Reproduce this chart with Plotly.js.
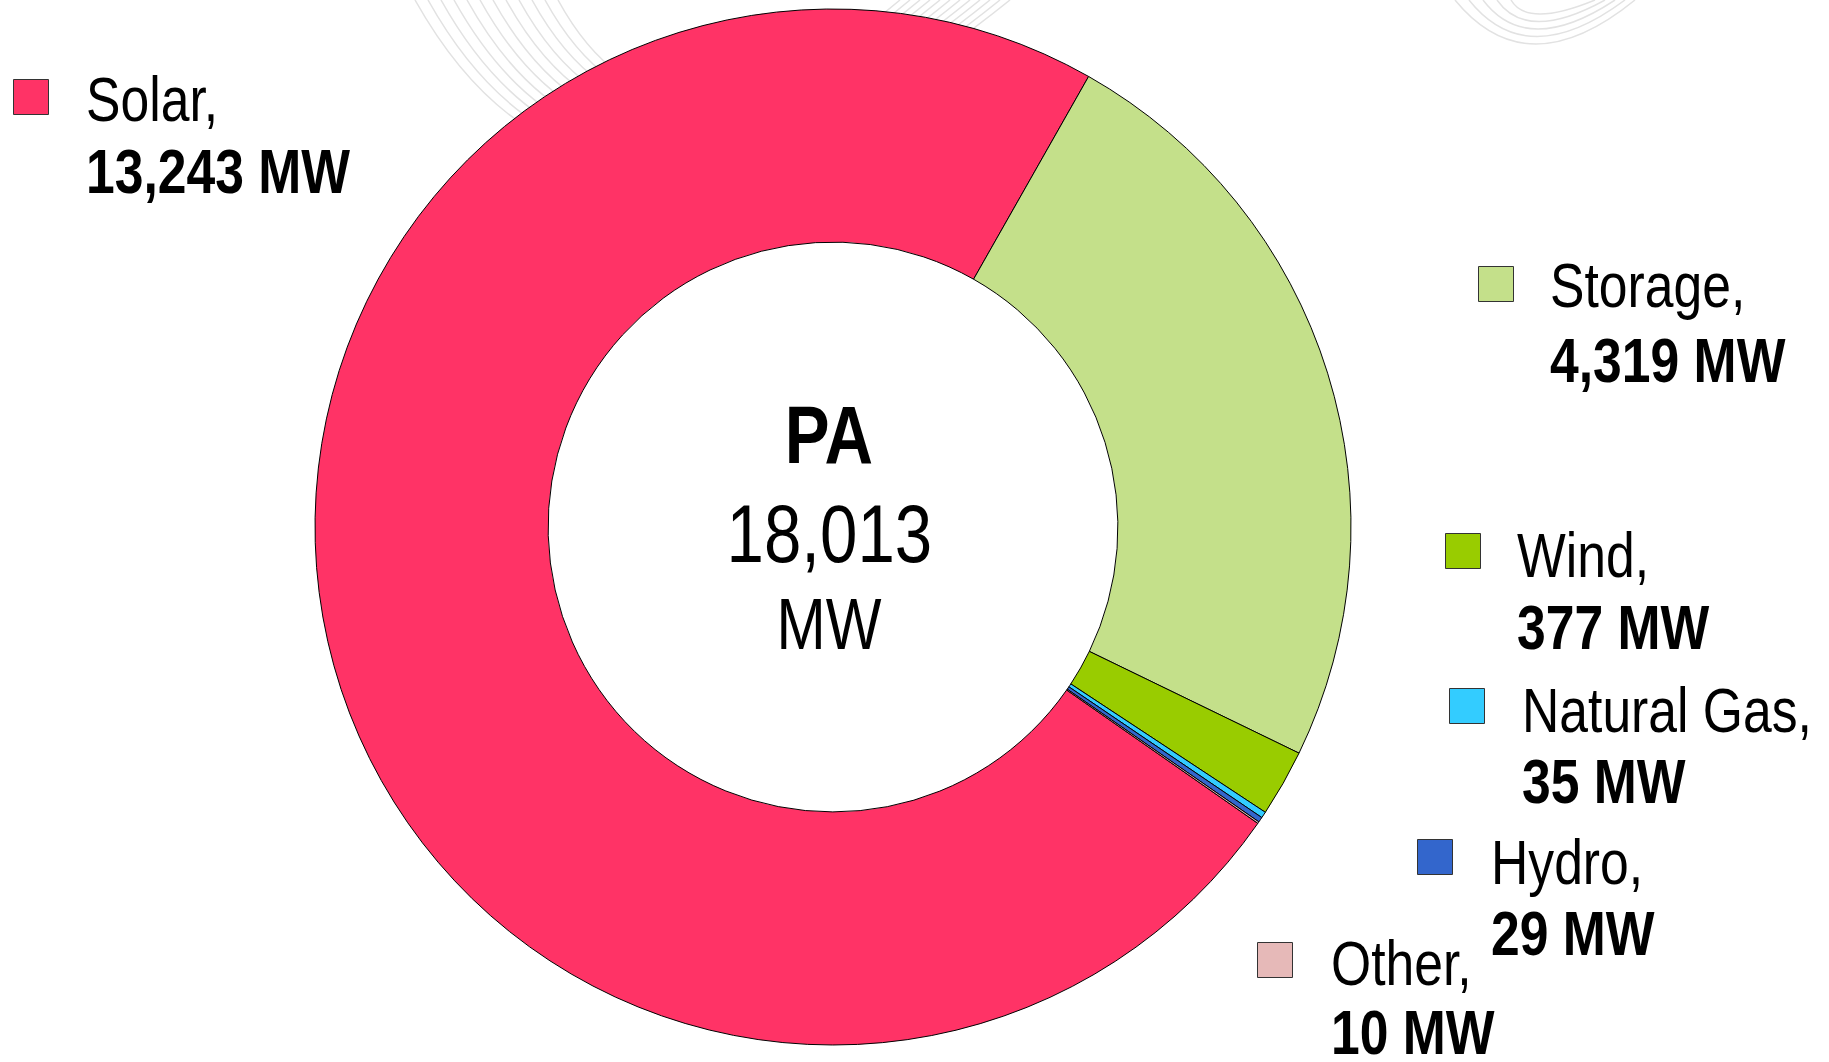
<!DOCTYPE html>
<html>
<head>
<meta charset="utf-8">
<script src="https://cdn.plot.ly/plotly-3.0.1.min.js"></script>
<style>html,body{margin:0;padding:0;background:#fff;}#chart{width:1829px;height:1062px;}</style>
</head>
<body>
<div id="chart"></div>
<script>
// ---- data ----
const categories = ['Solar', 'Storage', 'Wind', 'Natural Gas', 'Hydro', 'Other'];
const valuesMW = [13243, 4319, 377, 35, 29, 10];
const regionName = 'PA';
const unit = 'MW';

// ---- styles / layout ----
const sliceColors = ['#FF3366', '#C4E08A', '#99CC00', '#33CCFF', '#3366CC', '#E6B9B8'];
const W = 1829, H = 1062;
const FONT = '"Liberation Sans", Arial, "Helvetica", sans-serif';
const NARROW = 0.82; // horizontal condensation to mimic a narrow face
// legend item positions in px: [squareCenterX, squareCenterY, textX, line1Y, line2Y]
const legendPos = [
  [31, 97, 84, 99, 171],
  [1496, 284, 1548, 285, 360],
  [1463, 551, 1515, 555, 627],
  [1467, 706, 1520, 710, 781],
  [1435, 857, 1489, 862, 933],
  [1275, 960, 1329, 963, 1032]
];

const px = x => x / W;
const py = y => 1 - y / H;
const fmt = v => v.toLocaleString('en-US');
const total = valuesMW.reduce((a, b) => a + b, 0);

const trace = {
  type: 'pie',
  labels: categories,
  values: valuesMW,
  sort: false,
  direction: 'clockwise',
  rotation: 124.9,
  hole: 0.55,
  marker: { colors: sliceColors, line: { color: '#000000', width: 1 } },
  textinfo: 'none',
  hoverinfo: 'none',
  showlegend: false,
  domain: { x: [px(315), px(1351)], y: [py(1045), py(9)] }
};

const annotations = [];
const centered = [];
const shapes = [];

// faint decorative background curves
const deco = '#e2e2e2';
for (let k = 0; k < 12; k++) {
  const x1 = 415 + k * 13, cx = 600 + k * 6, cy = 330 - k * 12, x2 = 1010 - k * 10;
  shapes.push({ type: 'path', xref: 'paper', yref: 'paper', layer: 'below',
    path: `M ${px(x1)},${py(0)} Q ${px(cx)},${py(cy)} ${px(x2)},${py(0)}`,
    line: { color: deco, width: 1.5 } });
}
for (let k = 0; k < 5; k++) {
  const x1 = 1455 + k * 14, cx = 1527, cy = 88 - k * 15, x2 = 1635 - k * 10;
  shapes.push({ type: 'path', xref: 'paper', yref: 'paper', layer: 'below',
    path: `M ${px(x1)},${py(0)} Q ${px(cx)},${py(cy)} ${px(x2)},${py(0)}`,
    line: { color: deco, width: 1.5 } });
}

const SQ = 35;
categories.forEach((c, i) => {
  const p = legendPos[i];
  shapes.push({
    type: 'rect', xref: 'paper', yref: 'paper',
    x0: px(p[0] - SQ / 2), x1: px(p[0] + SQ / 2),
    y0: py(p[1] + SQ / 2), y1: py(p[1] - SQ / 2),
    fillcolor: sliceColors[i], line: { color: '#333333', width: 1 }
  });
  annotations.push({
    xref: 'paper', yref: 'paper', x: px(p[2]), y: py(p[3]),
    xanchor: 'left', yanchor: 'middle', showarrow: false,
    text: c + ',', font: { family: FONT, size: 63, color: '#000' }
  });
  centered.push(false);
  annotations.push({
    xref: 'paper', yref: 'paper', x: px(p[2]), y: py(p[4]),
    xanchor: 'left', yanchor: 'middle', showarrow: false,
    text: '<b>' + fmt(valuesMW[i]) + ' ' + unit + '</b>',
    font: { family: FONT, size: 63, color: '#000' }
  });
  centered.push(false);
});

annotations.push({ xref: 'paper', yref: 'paper', x: px(829), y: py(435), xanchor: 'center', yanchor: 'middle',
  showarrow: false, text: '<b>' + regionName + '</b>', font: { family: FONT, size: 82, color: '#000' } });
annotations.push({ xref: 'paper', yref: 'paper', x: px(829), y: py(533), xanchor: 'center', yanchor: 'middle',
  showarrow: false, text: fmt(total), font: { family: FONT, size: 82, color: '#000' } });
annotations.push({ xref: 'paper', yref: 'paper', x: px(829), y: py(624), xanchor: 'center', yanchor: 'middle',
  showarrow: false, text: unit, font: { family: FONT, size: 72, color: '#000' } });
centered.push(true, true, true);

const layout = {
  width: W, height: H,
  margin: { l: 0, r: 0, t: 0, b: 0, pad: 0 },
  paper_bgcolor: '#ffffff', plot_bgcolor: '#ffffff',
  showlegend: false,
  annotations: annotations,
  shapes: shapes
};

const gd = document.getElementById('chart');
Plotly.newPlot(gd, [trace], layout, { displayModeBar: false, staticPlot: true }).then(() => {
  gd.querySelectorAll('g.annotation').forEach(g => {
    const idx = +g.getAttribute('data-index');
    const t = g.querySelector('text.annotation-text');
    if (!t) return;
    const bb = t.getBBox();
    const ox = centered[idx] ? bb.x + bb.width / 2 : bb.x;
    t.setAttribute('transform', `translate(${ox},0) scale(${NARROW},1) translate(${-ox},0)`);
  });
});
</script>
</body>
</html>
